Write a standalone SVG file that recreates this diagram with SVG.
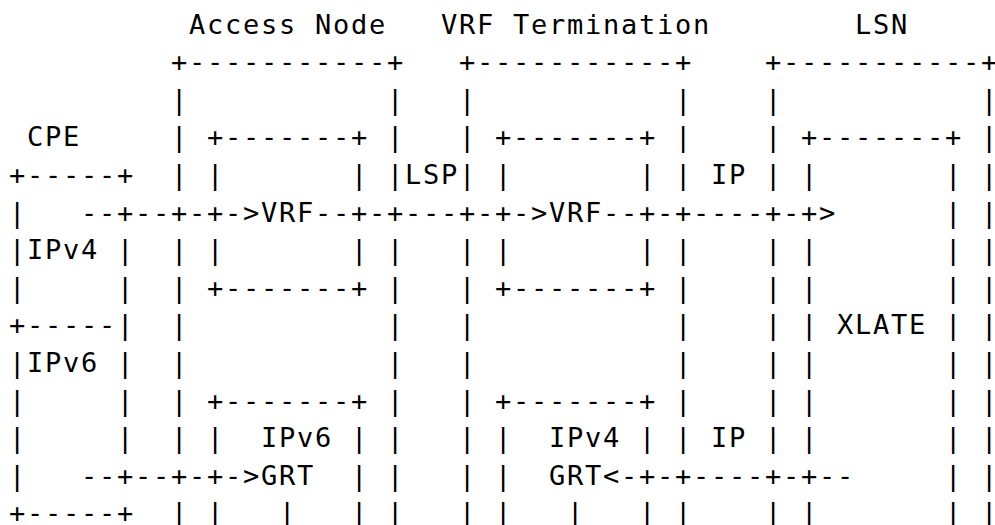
<svg xmlns="http://www.w3.org/2000/svg" width="995" height="525" viewBox="0 0 995 525" xml:space="preserve">
<style>
text { font-family: "DejaVu Sans Mono", "Liberation Mono", monospace; font-size: 27px; letter-spacing: 1.74px; fill: #000; white-space: pre; }
</style>
<rect x="0" y="0" width="995" height="525" fill="#fff"/>
<g id="cpe">
<text x="27" y="146.3">CPE</text>
<text x="9" y="183.9">+-----+</text>
<text x="9" y="221.5">|</text>
<text x="9" y="259.1">|IPv4 |</text>
<text x="9" y="296.7">|     |</text>
<text x="9" y="334.3">+-----|</text>
<text x="9" y="371.9">|IPv6 |</text>
<text x="9" y="409.5">|     |</text>
<text x="9" y="447.1">|     |</text>
<text x="9" y="484.7">|</text>
<text x="9" y="522.3">+-----+</text>
</g>
<g id="access-node">
<text x="189" y="33.5">Access Node</text>
<text x="171" y="71.1">+-----------+</text>
<text x="171" y="108.7">|           |</text>
<text x="171" y="146.3">| +-------+ |</text>
<text x="171" y="183.9">| |       | |</text>
<text x="261" y="221.5">VRF</text>
<text x="171" y="259.1">| |       | |</text>
<text x="171" y="296.7">| +-------+ |</text>
<text x="171" y="334.3">|           |</text>
<text x="171" y="371.9">|           |</text>
<text x="171" y="409.5">| +-------+ |</text>
<text x="171" y="447.1">| |  IPv6 | |</text>
<text x="261" y="484.7">GRT  | |</text>
<text x="171" y="522.3">| |   |   | |</text>
</g>
<g id="vrf-termination">
<text x="441" y="33.5">VRF Termination</text>
<text x="459" y="71.1">+-----------+</text>
<text x="459" y="108.7">|           |</text>
<text x="459" y="146.3">| +-------+ |</text>
<text x="459" y="183.9">| |       | |</text>
<text x="549" y="221.5">VRF</text>
<text x="459" y="259.1">| |       | |</text>
<text x="459" y="296.7">| +-------+ |</text>
<text x="459" y="334.3">|           |</text>
<text x="459" y="371.9">|           |</text>
<text x="459" y="409.5">| +-------+ |</text>
<text x="459" y="447.1">| |  IPv4 | |</text>
<text x="459" y="484.7">| |  GRT</text>
<text x="459" y="522.3">| |   |   | |</text>
</g>
<g id="lsn">
<text x="855" y="33.5">LSN</text>
<text x="765" y="71.1">+-----------+</text>
<text x="765" y="108.7">|           |</text>
<text x="765" y="146.3">| +-------+ |</text>
<text x="765" y="183.9">| |       | |</text>
<text x="945" y="221.5">| |</text>
<text x="765" y="259.1">| |       | |</text>
<text x="765" y="296.7">| |       | |</text>
<text x="765" y="334.3">| | XLATE | |</text>
<text x="765" y="371.9">| |       | |</text>
<text x="765" y="409.5">| |       | |</text>
<text x="765" y="447.1">| |       | |</text>
<text x="945" y="484.7">| |</text>
<text x="765" y="522.3">| |       | |</text>
</g>
<g id="connectors">
<text x="405" y="183.9">LSP</text>
<text x="711" y="183.9">IP</text>
<text x="81" y="221.5">--+--+-+-&gt;</text>
<text x="315" y="221.5">--+-+---+-+-&gt;</text>
<text x="603" y="221.5">--+-+----+-+&gt;</text>
<text x="711" y="447.1">IP</text>
<text x="81" y="484.7">--+--+-+-&gt;</text>
<text x="603" y="484.7">&lt;-+-+----+-+--</text>
</g>
</svg>
